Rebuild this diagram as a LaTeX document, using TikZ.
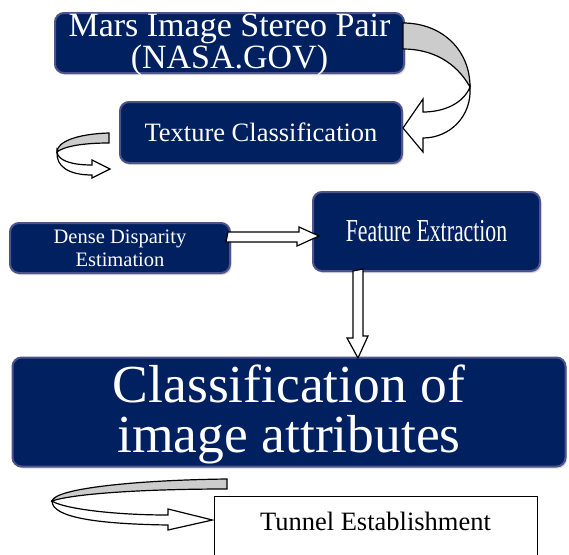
\documentclass[tikz,border=0pt]{standalone}
\usepackage{fontspec}
\setmainfont{Liberation Serif}
\usetikzlibrary{calc,shadows}
\definecolor{navy}{RGB}{0,32,96}
\definecolor{rim}{RGB}{78,84,138}
\definecolor{twist}{RGB}{204,204,204}

\begin{document}
\begin{tikzpicture}[x=1pt, y=-1pt,
	box/.style={draw=rim, line width=2pt, fill=navy, rounded corners=9pt, text=white, align=center, inner sep=0pt,
		drop shadow={shadow xshift=1.5pt, shadow yshift=-2pt, opacity=0.3}},
	band/.style={draw=black, line width=1.2pt, line join=miter}]

	\useasboundingbox (0,0) rectangle (569,554);
	\clip (0,0) rectangle (569,554);

	% boxes
	\node [box, minimum width=349, minimum height=60, text height=51pt, text depth=0pt, font=\fontsize{34}{28}\selectfont] (mars) at (229.5,43) {Mars Image Stereo Pair\\(NASA.GOV)};

	\node [box, minimum width=282, minimum height=61, font=\fontsize{26.5}{30}\selectfont] (texture) at (261,132.5) {Texture Classification};

	\node [box, minimum width=220, minimum height=50, font=\fontsize{20.5}{23}\selectfont] (dense) at (120,248) {Dense Disparity\\Estimation};

	\node [box, minimum width=227, minimum height=79, font=\fontsize{32}{34}\selectfont] (feat) at (426.5,231.5) {\scalebox{0.68}[1]{Feature Extraction}};

	\node [box, minimum width=553, minimum height=109, text height=90pt, text depth=10pt, font=\fontsize{53.5}{50}\selectfont] (class) at (289,412) {Classification of\\image attributes};

	\node [draw, line width=1pt, fill=white, anchor=north, minimum width=323, inner ysep=14pt, text height=20pt, text depth=80pt, font=\fontsize{26.5}{30}\selectfont] (tunnel) at (375.5,496) {Tunnel Establishment};

	% mars -> texture
	\draw [band, fill=twist] ($(mars.east)+(-2,-20)$) .. controls (442,23) and (470,50) .. (470,87) .. controls (456,62) and (432,49) .. ($(mars.east)+(-2,6)$) -- cycle;
	\draw [band, fill=white] (470,87) .. controls (472,116) and (450,138) .. (423,138) -- (423,152) -- ($(texture.east)+(0,-4.5)$) -- (423,99) -- (423,112) .. controls (446,112) and (464,102) .. (470,87) -- cycle;

	% texture -> dense
	\draw [band, fill=twist] (109,133) .. controls (76,134) and (57,142) .. (57,152) .. controls (63,147) and (80,143) .. (109,143) -- cycle;
	\draw [band, fill=white] (57,152) .. controls (58,160) and (70,165) .. (92,165) -- (92,160) -- (110,169) -- (92,178) -- (92,175) .. controls (68,175) and (56,166) .. (57,152) -- cycle;

	% dense -> feat
	\draw [band, fill=white] ($(dense.east)+(-3,-16)$) -- ++(71,0) -- ++(0,-5) -- ($(feat.west)+(7,4.5)$) -- ++(-22,10) -- ++(0,-4) -- ++(-71,0) -- cycle;

	% feat -> class
	\draw [band, fill=white] ($(feat.south)+(-73.5,-1)$) -- ++(0,67) -- ++(-6,0) -- ($(class.north)+(69,1.5)$) -- ++(10,-22) -- ++(-5,0) -- ++(0,-67) -- cycle;

	% class -> tunnel
	\draw [band, fill=twist] (227,479) .. controls (140,480) and (55,488) .. (52,501) .. controls (72,494) and (140,489) .. (227,489) -- cycle;
	\draw [band, fill=white] (52,501) .. controls (62,508) and (110,515) .. (168,515) -- (168,509) -- ($(tunnel.north west)+(-1,24)$) -- (168,530) -- (168,525) .. controls (100,524) and (52,518) .. (52,501) -- cycle;

\end{tikzpicture}
\end{document}
